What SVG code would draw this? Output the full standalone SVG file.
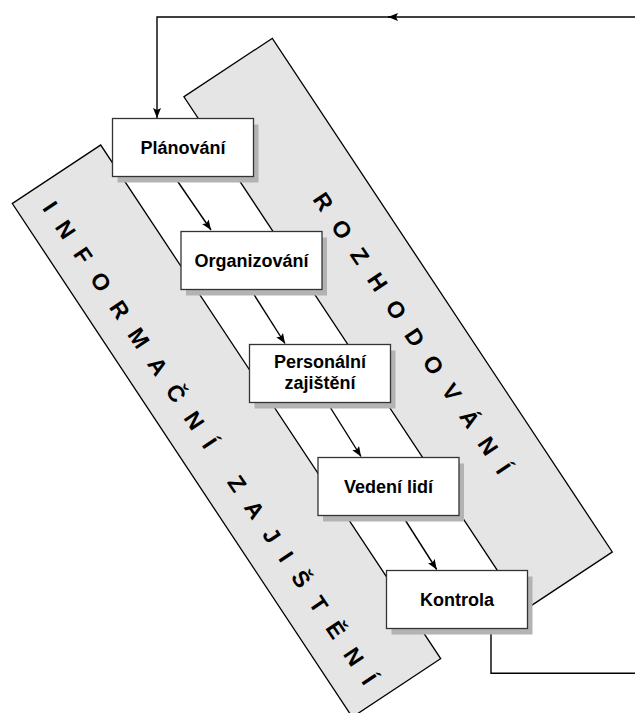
<svg xmlns="http://www.w3.org/2000/svg" width="635" height="713" viewBox="0 0 635 713">
  <style>
    .band { fill: #e5e5e5; stroke: #000; stroke-width: 1.3; }
    .bandtext { font-family: "Liberation Sans", Arial, sans-serif; font-weight: bold; font-size: 23px; fill: #000; }
    .shadow { fill: #b3b3b3; }
    .box { fill: #fff; stroke: #333; stroke-width: 1.3; }
    .label { font-family: "Liberation Sans", Arial, sans-serif; font-weight: bold; font-size: 18px; fill: #000; text-anchor: middle; }
    .conn { fill: none; stroke: #000; stroke-width: 1.4; }
  </style>
  <defs>
    <marker id="arr" markerUnits="userSpaceOnUse" markerWidth="11" markerHeight="9" refX="10" refY="4" orient="auto">
      <path d="M0,0 L10,4 L0,8 L2,4 z" fill="#000"/>
    </marker>
  </defs>
  <rect width="635" height="713" fill="#fff"/>

  <g id="band-informacni">
    <rect class="band" x="0" y="0" width="616" height="106" transform="translate(100.7,145) rotate(56.5)"/>
    <g transform="translate(209.7,442.8) rotate(56)">
      <text class="bandtext" x="-288.4" y="8.2" dx="0 16.1 16.1 16.1 16.1 16.1 16.1 16.1 16.1 16.1 16.1 16.1 16.1 16.1 16.1 16.1 16.1 16.1 16.1 16.1">INFORMAČNÍ ZAJIŠTĚNÍ</text>
    </g>
  </g>

  <g id="band-rozhodovani">
    <rect class="band" x="0" y="0" width="616" height="106" transform="translate(272.3,38.3) rotate(56.5)"/>
    <g transform="translate(412.1,333) rotate(56)">
      <text class="bandtext" x="-166.8" y="8.2" dx="0 16.1 16.1 16.1 16.1 16.1 16.1 16.1 16.1 16.1 16.1">ROZHODOVÁNÍ</text>
    </g>
  </g>

  <g id="connectors">
    <path class="conn" d="M635,17 H388" marker-end="url(#arr)"/>
    <path class="conn" d="M390,17 H157 V118" marker-end="url(#arr)"/>
    <path class="conn" d="M174.3,176.5 L211,230" marker-end="url(#arr)"/>
    <path class="conn" d="M251.4,290.5 L285,343.5" marker-end="url(#arr)"/>
    <path class="conn" d="M327.2,402.5 L361,456.5" marker-end="url(#arr)"/>
    <path class="conn" d="M402.3,515.5 L436.7,569.5" marker-end="url(#arr)"/>
    <path class="conn" d="M491,628.5 V673.3 H635"/>
  </g>

  <g id="planovani">
    <rect class="shadow" x="117.5" y="124.5" width="141" height="58"/>
    <rect class="box" x="112.5" y="118.5" width="141" height="58"/>
    <text class="label" x="183" y="154">Plánování</text>
  </g>
  <g id="organizovani">
    <rect class="shadow" x="186" y="237.5" width="141" height="58"/>
    <rect class="box" x="181" y="231.5" width="141" height="58"/>
    <text class="label" x="251.5" y="267">Organizování</text>
  </g>
  <g id="personalni-zajisteni">
    <rect class="shadow" x="254.5" y="350.5" width="141" height="58"/>
    <rect class="box" x="249.5" y="344.5" width="141" height="58"/>
    <text class="label" x="320" y="368">Personální</text>
    <text class="label" x="320" y="389">zajištění</text>
  </g>
  <g id="vedeni-lidi">
    <rect class="shadow" x="323" y="463.5" width="141" height="58"/>
    <rect class="box" x="318" y="457.5" width="141" height="58"/>
    <text class="label" x="388.5" y="493">Vedení lidí</text>
  </g>
  <g id="kontrola">
    <rect class="shadow" x="391.5" y="576.5" width="141" height="58"/>
    <rect class="box" x="386.5" y="570.5" width="141" height="58"/>
    <text class="label" x="457" y="606">Kontrola</text>
  </g>
</svg>
